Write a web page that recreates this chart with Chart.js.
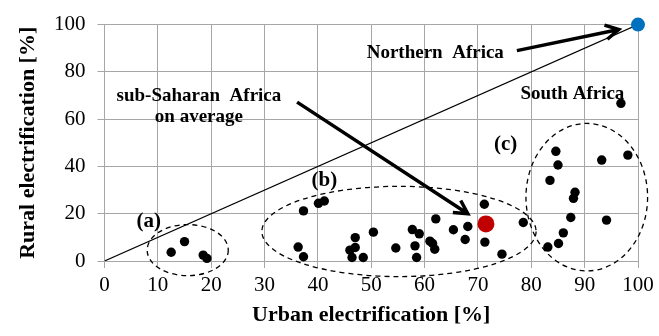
<!DOCTYPE html>
<html>
<head>
<meta charset="utf-8">
<script src="https://cdn.jsdelivr.net/npm/chart.js@4.4.0/dist/chart.umd.min.js"></script>
<style>
  html, body { margin: 0; padding: 0; background: #fff; }
</style>
</head>
<body>
<canvas id="chart" width="659" height="336"></canvas>
<script>
// sub-Saharan countries
const urbanRate = [
  12.5, 15.0, 18.5, 19.2,
  37.3, 40.1, 41.2, 36.3, 37.3, 47.0, 50.4, 46.0, 47.0, 46.4, 48.5, 54.6,
  57.7, 62.1, 59.0, 58.2, 58.5, 61.0, 61.5, 61.9, 65.4, 68.1, 67.6, 71.2,
  71.3, 74.5, 78.5,
  96.8, 84.6, 85.0, 93.2, 98.1, 83.5, 88.2, 87.9, 87.4, 94.1, 86.0, 85.1, 83.1
];
const ruralRate = [
  3.7, 8.2, 2.5, 1.1,
  21.2, 24.4, 25.4, 5.9, 1.8, 9.9, 12.2, 4.6, 5.7, 1.5, 1.5, 5.5,
  13.3, 17.8, 11.5, 6.4, 1.5, 8.4, 7.4, 5.0, 13.2, 14.6, 9.1, 24.0,
  8.0, 2.9, 16.3,
  66.7, 46.4, 40.6, 42.7, 44.8, 34.1, 29.1, 26.5, 18.4, 17.3, 11.9, 7.4, 5.9
];
const ssaAverage = [71.5, 15.7];
const northernAfrica = [100, 100];
const parityLine = [0, 100];

const xTickValues = [0, 10, 20, 30, 40, 50, 60, 70, 80, 90, 100];
const yTickValues = [0, 20, 40, 60, 80, 100];

// annotation layout, in axis units
const groups = [
  { label: '(a)', cx: 15.6, cy: 4.6, rx: 7.6, ry: 10.8, lx: 8.3, ly: 14.3 },
  { label: '(b)', cx: 55.2, cy: 12.5, rx: 25.7, ry: 19.1, lx: 41.2, ly: 31.6 },
  { label: '(c)', cx: 90.4, cy: 27.0, rx: 11.4, ry: 31.2, lx: 75.2, ly: 47.0 }
];
const notes = [
  { text: 'Northern  Africa', x: 62.0, y: 85.9 },
  { text: 'sub-Saharan  Africa', x: 17.7, y: 67.8 },
  { text: 'on average', x: 17.7, y: 58.6 },
  { text: 'South Africa', x: 87.7, y: 68.6 }
];
const arrows = [
  { from: [77.3, 89.0], to: [96.4, 97.9] },
  { from: [36.1, 67.2], to: [68.1, 20.0] }
];

const SERIF = "'Liberation Serif', 'Times New Roman', serif";
const GRID = '#a6a6a6';

function drawArrow(ctx, x1, y1, x2, y2) {
  const a = Math.atan2(y2 - y1, x2 - x1);
  const h = 15, w = 0.5;
  ctx.beginPath();
  ctx.moveTo(x1, y1);
  ctx.lineTo(x2, y2);
  ctx.moveTo(x2 - h * Math.cos(a - w), y2 - h * Math.sin(a - w));
  ctx.lineTo(x2, y2);
  ctx.lineTo(x2 - h * Math.cos(a + w), y2 - h * Math.sin(a + w));
  ctx.stroke();
}

const annotations = {
  id: 'annotations',
  beforeDatasetsDraw(chart) {
    const { ctx, scales: { x, y } } = chart;
    ctx.save();
    // dashed group outlines
    ctx.strokeStyle = '#000';
    ctx.lineWidth = 1.3;
    ctx.setLineDash([5, 4]);
    groups.forEach(g => {
      const cx = x.getPixelForValue(g.cx), cy = y.getPixelForValue(g.cy);
      const rx = x.getPixelForValue(g.cx + g.rx) - cx;
      const ry = cy - y.getPixelForValue(g.cy + g.ry);
      ctx.beginPath();
      ctx.ellipse(cx, cy, rx, ry, 0, 0, Math.PI * 2);
      ctx.stroke();
    });
    ctx.setLineDash([]);

    ctx.lineWidth = 3.5;
    ctx.lineJoin = 'miter';
    arrows.forEach(a => {
      drawArrow(ctx,
        x.getPixelForValue(a.from[0]), y.getPixelForValue(a.from[1]),
        x.getPixelForValue(a.to[0]), y.getPixelForValue(a.to[1]));
    });

    ctx.fillStyle = '#000';
    ctx.textAlign = 'center';
    ctx.textBaseline = 'alphabetic';
    ctx.font = 'bold 19px ' + SERIF;
    notes.forEach(n => {
      ctx.fillText(n.text, x.getPixelForValue(n.x), y.getPixelForValue(n.y));
    });
    ctx.font = 'bold 21px ' + SERIF;
    groups.forEach(g => {
      ctx.fillText(g.label, x.getPixelForValue(g.lx), y.getPixelForValue(g.ly));
    });
    ctx.restore();
  }
};

new Chart(document.getElementById('chart'), {
  type: 'scatter',
  data: {
    datasets: [
      {
        data: [{ x: northernAfrica[0], y: northernAfrica[1] }],
        backgroundColor: '#0070c0',
        pointRadius: 7,
        borderWidth: 0,
        clip: false
      },
      {
        data: [{ x: ssaAverage[0], y: ssaAverage[1] }],
        backgroundColor: '#c00000',
        pointRadius: 8.5,
        borderWidth: 0,
        clip: false
      },
      {
        data: urbanRate.map((u, i) => ({ x: u, y: ruralRate[i] })),
        backgroundColor: '#000',
        pointRadius: 4.7,
        borderWidth: 0,
        clip: false
      },
      {
        data: parityLine.map(v => ({ x: v, y: v })),
        showLine: true,
        borderColor: '#000',
        borderWidth: 1.2,
        pointRadius: 0
      }
    ]
  },
  options: {
    responsive: false,
    animation: false,
    layout: { padding: { top: 20.5, right: 21, left: 0, bottom: 0 } },
    plugins: {
      legend: { display: false },
      tooltip: { enabled: false }
    },
    scales: {
      x: {
        min: 0,
        max: 100,
        afterBuildTicks: s => { s.ticks = xTickValues.map(v => ({ value: v })); },
        afterFit: s => { s.height = 75; },
        ticks: { color: '#000', padding: 5, font: { family: SERIF, size: 21 } },
        grid: { color: GRID, tickLength: 7 },
        border: { color: GRID },
        title: {
          display: true,
          text: 'Urban electrification [%]',
          color: '#000',
          font: { family: SERIF, size: 22, weight: 'bold' },
          padding: { top: 0, bottom: 7 }
        }
      },
      y: {
        min: 0,
        max: 100,
        afterBuildTicks: s => { s.ticks = yTickValues.map(v => ({ value: v })); },
        afterFit: s => { s.width = 104.5; },
        ticks: { color: '#000', padding: 12, font: { family: SERIF, size: 21 } },
        grid: { color: GRID, tickLength: 7 },
        border: { color: GRID },
        title: {
          display: true,
          text: 'Rural electrification [%]',
          color: '#000',
          font: { family: SERIF, size: 22, weight: 'bold' },
          padding: { top: 15, bottom: 0 }
        }
      }
    }
  },
  plugins: [annotations]
});
</script>
</body>
</html>
